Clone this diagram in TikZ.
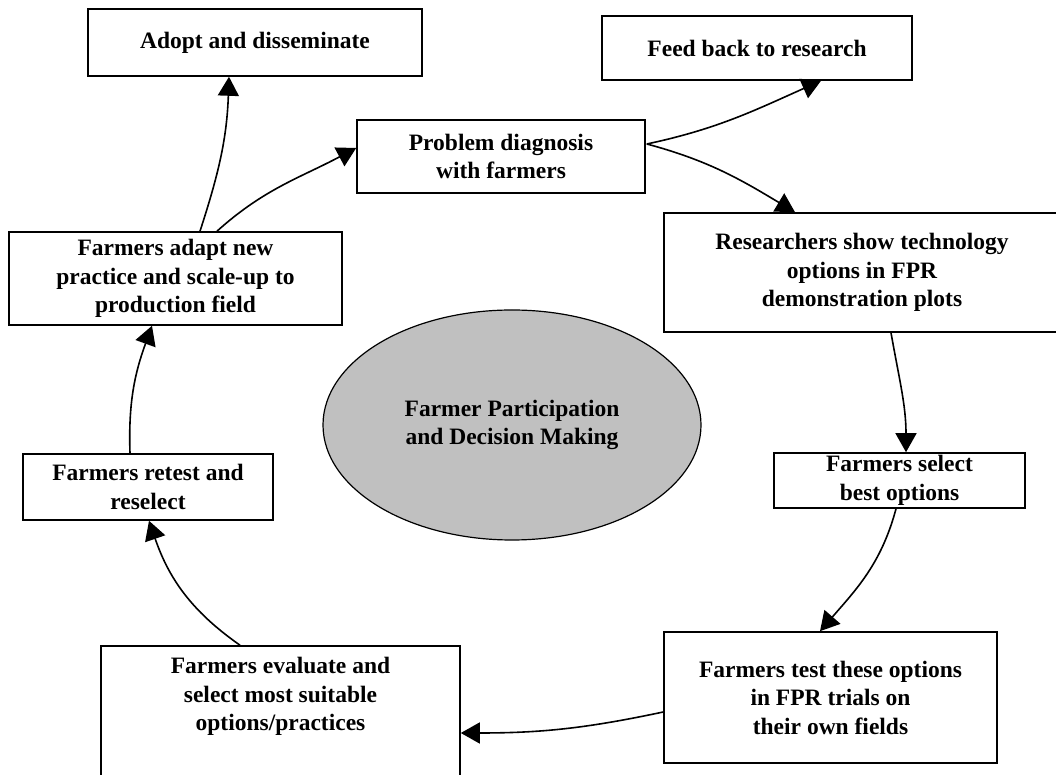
\documentclass[tikz,border=0pt]{standalone}
\usepackage{fontspec}
\setmainfont{Liberation Serif}
\usetikzlibrary{calc}
\usetikzlibrary{arrows.meta}
\usetikzlibrary{shapes.geometric}

\begin{document}
\begin{tikzpicture}[x=1pt,y=1pt,
    stage/.style={draw, line width=1.6pt, align=center, inner sep=0pt, font=\fontsize{23.5}{28.5}\selectfont\bfseries},
    flow/.style={line width=1.6pt, -{Triangle[length=19pt,width=21pt]}}]
    \clip (0,0) rectangle (1056,775);
    \node[stage, minimum width=334pt, minimum height=67pt] (adopt) at (255,732.5) {Adopt and disseminate};
    \node[stage, minimum width=310pt, minimum height=64pt] (feed) at (757,727) {Feed back to research};
    \node[stage, minimum width=288pt, minimum height=73pt] (diag) at (501,618.5) {Problem diagnosis\\with farmers};
    \node[stage, minimum width=396pt, minimum height=119pt] (research) at (862,502.5) {Researchers show technology\\options in FPR\\demonstration plots};
    \node[stage, minimum width=333pt, minimum height=93pt] (adapt) at (175.5,496.5) {Farmers adapt new\\practice and scale-up to\\production field};
    \node[stage, minimum width=250pt, minimum height=66pt] (retest) at (148,288) {Farmers retest and\\reselect};
    \node[stage, minimum width=251pt, minimum height=55pt] (select) at (899.5,294.5) {Farmers select\\best options};
    \node[stage, minimum width=333pt, minimum height=131pt] (test) at (830.5,77.5) {Farmers test these options\\in FPR trials on\\their own fields};
    \node[stage, minimum width=359pt, minimum height=162pt] (evaluate) at (280.5,48) {Farmers evaluate and\\select most suitable\\options/practices\\\strut\\\strut};
    \node[ellipse, draw, line width=1.2pt, fill={rgb,255:red,192;green,192;blue,192}, minimum width=378pt, minimum height=230pt, inner sep=0pt, align=center, font=\fontsize{23.5}{28.5}\selectfont\bfseries] (core) at (512,350) {Farmer Participation\\and Decision Making};
    % cycle
    \draw[flow] ($(adapt.north)+(24.5,0)$) to[out=72,in=-92] ($(adopt.south)+(-26,0)$);
    \draw[flow] ($(adapt.north)+(41.5,0)$) to[out=42,in=-152] ($(diag.west)+(0,8.5)$);
    \coordinate (fork) at ($(diag.east)+(1,12.5)$);
    \draw[flow] (fork) to[out=12,in=-156] ($(feed.south)+(64,0)$);
    \draw[flow] (fork) to[out=-15,in=149] ($(research.north)+(-67,0)$);
    \draw[flow] ($(research.south)+(29,0)$) to[out=-80,in=90] ($(select.north)+(6.5,0)$);
    \draw[flow] ($(select.south)+(-3.5,0)$) to[out=-105,in=49] ($(test.north)+(-10.5,0)$);
    \draw[flow] ($(test.west)+(0,-14.5)$) to[out=192,in=0] ($(evaluate.east)+(0,-6)$);
    \draw[flow] ($(evaluate.north)+(-40.5,0)$) to[out=145,in=-71] ($(retest.south)+(1,0)$);
    \draw[flow] ($(retest.north)+(-18,0)$) to[out=92,in=-110] ($(adapt.south)+(-23.5,0)$);
\end{tikzpicture}
\end{document}
